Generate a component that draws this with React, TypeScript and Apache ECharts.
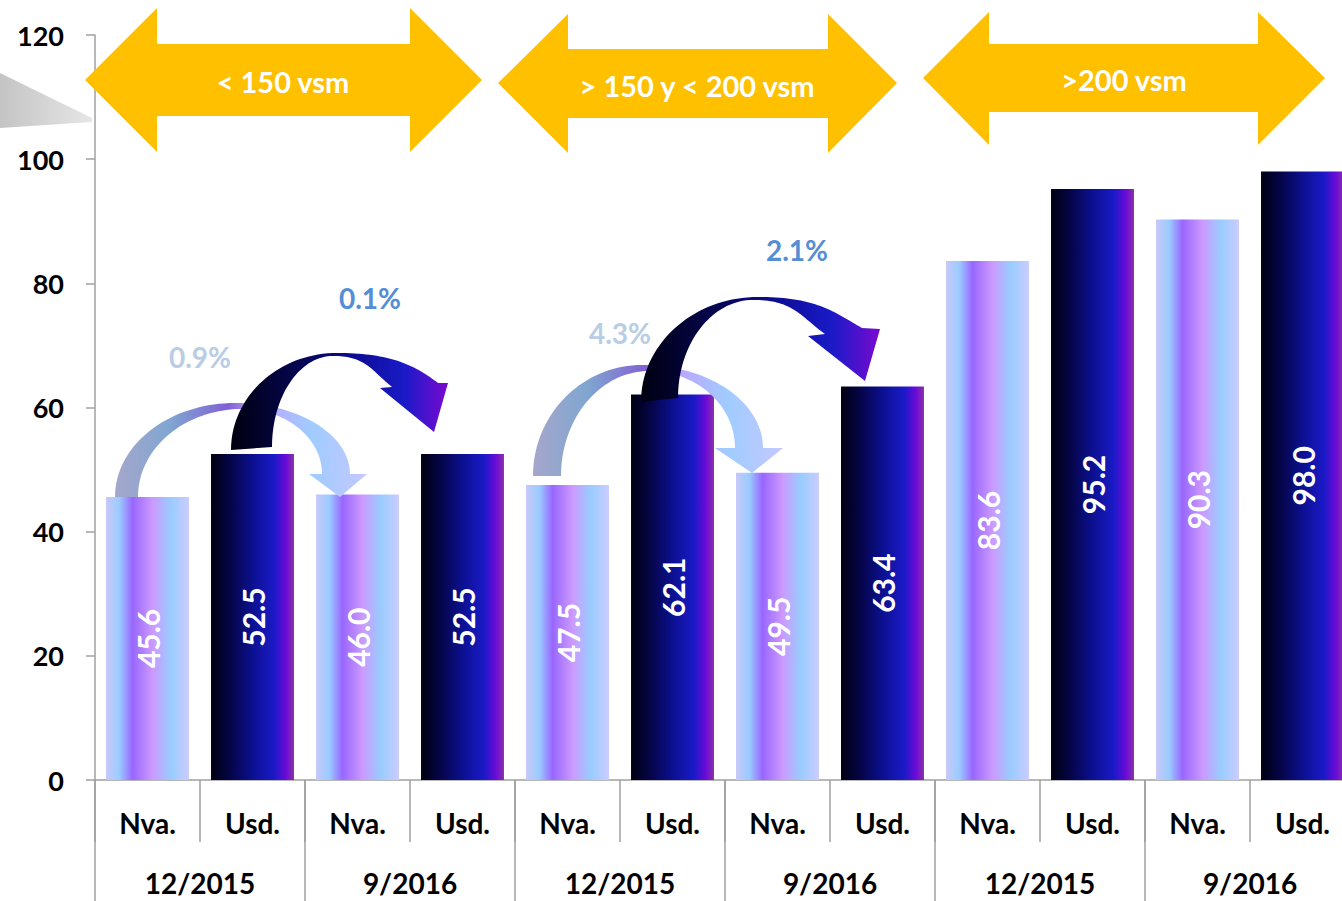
import React, { useEffect, useRef } from "react";
import * as echarts from "echarts";

const subLabels = ["Nva.", "Usd.", "Nva.", "Usd.", "Nva.", "Usd.", "Nva.", "Usd.", "Nva.", "Usd.", "Nva.", "Usd."];
const groupLabels = ["12/2015", "9/2016", "12/2015", "9/2016", "12/2015", "9/2016"];
const values = [45.6, 52.5, 46.0, 52.5, 47.5, 62.1, 49.5, 63.4, 83.6, 95.2, 90.3, 98.0];
const bandLabels = ["< 150 vsm", "> 150 y < 200 vsm", ">200 vsm"];
const changeLabels = ["0.9%", "0.1%", "4.3%", "2.1%"];
const yTicks = [0, 20, 40, 60, 80, 100, 120];

const FONT = "Lato, 'Open Sans', sans-serif";

const nvaGrad = () =>
  new echarts.graphic.LinearGradient(0, 0, 1, 0, [
    { offset: 0, color: "#c8c8f8" },
    { offset: 0.16, color: "#99ccff" },
    { offset: 0.32, color: "#9966ff" },
    { offset: 0.56, color: "#cc99ff" },
    { offset: 0.78, color: "#99ccff" },
    { offset: 1, color: "#ccccff" },
  ]);
const usdGrad = () =>
  new echarts.graphic.LinearGradient(0, 0, 1, 0, [
    { offset: 0, color: "#000010" },
    { offset: 0.25, color: "#05054c" },
    { offset: 0.5, color: "#0c1090" },
    { offset: 0.76, color: "#1a1ac8" },
    { offset: 0.9, color: "#6a0ad8" },
    { offset: 1, color: "#8a30a8" },
  ]);
const lightArrowGrad = () =>
  new echarts.graphic.LinearGradient(0, 0, 1, 0, [
    { offset: 0, color: "#a6a6cc" },
    { offset: 0.22, color: "#7fa6d0" },
    { offset: 0.45, color: "#8260d4" },
    { offset: 0.56, color: "#c0a0ff" },
    { offset: 0.78, color: "#a0ccff" },
    { offset: 1, color: "#c4c8ff" },
  ]);
const darkArrowGrad = () =>
  new echarts.graphic.LinearGradient(0, 0, 1, 0, [
    { offset: 0, color: "#000010" },
    { offset: 0.3, color: "#05054e" },
    { offset: 0.55, color: "#0c0c90" },
    { offset: 0.8, color: "#1a1ac8" },
    { offset: 1, color: "#7a0ad0" },
  ]);

type Pt = [number, number];

function bez(p0: Pt, p1: Pt, p2: Pt, p3: Pt, t: number): Pt {
  const u = 1 - t;
  return [
    u * u * u * p0[0] + 3 * u * u * t * p1[0] + 3 * u * t * t * p2[0] + t * t * t * p3[0],
    u * u * u * p0[1] + 3 * u * u * t * p1[1] + 3 * u * t * t * p2[1] + t * t * t * p3[1],
  ];
}

// edge from bottom of left leg (A) up to top (B), then down to end (C) with end tangent angle th (deg below horizontal)
function edge(A: Pt, B: Pt, C: Pt, th: number): Pt[] {
  const k = 0.552;
  const pts: Pt[] = [];
  const N = 36;
  const c1: Pt = [A[0], A[1] - k * (A[1] - B[1])];
  const c2: Pt = [B[0] - k * (B[0] - A[0]), B[1]];
  for (let i = 0; i <= N; i++) pts.push(bez(A, c1, c2, B, i / N));
  const r = (th * Math.PI) / 180;
  const drop = Math.max(4, C[1] - B[1]);
  const L = Math.min((k * drop) / Math.sin(r), 0.6 * Math.hypot(C[0] - B[0], C[1] - B[1]));
  const d1: Pt = [B[0] + k * (C[0] - B[0]), B[1]];
  const d2: Pt = [C[0] - Math.cos(r) * L, C[1] - Math.sin(r) * L];
  for (let i = 1; i <= N; i++) pts.push(bez(B, d1, d2, C, i / N));
  return pts;
}

export default function App() {
  const ref = useRef<HTMLDivElement>(null);
  useEffect(() => {
    if (!ref.current) return;
    const chart = echarts.init(ref.current, undefined, { renderer: "svg" });
    const axisColor = "#a0a0a0";
    chart.setOption({
      animation: false,
      backgroundColor: "#ffffff",
      grid: { left: 95, right: 1, top: 35, bottom: 121, containLabel: false },
      xAxis: [
        {
          type: "category",
          data: subLabels,
          position: "bottom",
          axisLine: { show: true, lineStyle: { color: axisColor, width: 1.5 } },
          axisTick: { show: true, interval: 0, length: 62, lineStyle: { color: axisColor, width: 1.5 } },
          axisLabel: { interval: 0, margin: 29, color: "#000", fontSize: 28, fontWeight: "bold", fontFamily: FONT },
        },
        {
          type: "category",
          data: groupLabels,
          position: "bottom",
          axisLine: { show: false },
          axisTick: { show: true, interval: 0, length: 121, lineStyle: { color: axisColor, width: 1.5 } },
          axisLabel: { interval: 0, margin: 89, color: "#000", fontSize: 28, fontWeight: "bold", fontFamily: FONT },
        },
      ],
      yAxis: {
        type: "value",
        min: yTicks[0],
        max: yTicks[yTicks.length - 1],
        interval: 20,
        axisLine: { show: true, lineStyle: { color: axisColor, width: 1.5 } },
        axisTick: { show: true, length: 9, lineStyle: { color: axisColor, width: 1.5 } },
        splitLine: { show: false },
        axisLabel: { margin: 31, color: "#000", fontSize: 27, fontWeight: "bold", fontFamily: FONT },
      },
      series: [
        {
          type: "bar",
          xAxisIndex: 0,
          barWidth: "79%",
          data: values.map((v, i) => ({
            value: v,
            itemStyle: { color: i % 2 === 0 ? nvaGrad() : usdGrad() },
          })),
          label: {
            show: true,
            position: "inside",
            rotate: 90,
            color: "#ffffff",
            fontSize: 30,
            fontWeight: "bold",
            fontFamily: FONT,
            formatter: (p: any) => Number(p.value).toFixed(1),
          },
        },
      ],
    });

    const px = (i: number): Pt => chart.convertToPixel({ xAxisIndex: 0, yAxisIndex: 0 }, [i, values[i]]) as Pt;
    const off = (p: Pt, d: number[]): Pt => [p[0] + d[0], p[1] + d[1]];

    // offsets: O0, I0, Pk, Pi relative to start bar top; O1, Bo, T, Bi, I1 relative to end bar top
    const curved = [
      { s: 0, e: 2, dark: false, thO: 90, thI: 90,
        O0: [-32.5, 0], I0: [-9.5, 0], Pk: [87.5, -93.9], Pi: [94.5, -87.9],
        O1: [-7.5, -20.4], Bo: [9.5, -20.4], T: [-17.5, 2.6], Bi: [-48.5, -20.4], I1: [-35.5, -20.4] },
      { s: 1, e: 3, dark: true, thO: 37, thI: 39,
        O0: [-21.5, -4.1], I0: [19.5, -7.1], Pk: [84.5, -101.1], Pi: [80.5, -98.1],
        O1: [-24.5, -71.1], Bo: [-14.5, -71.1], T: [-28.5, -22.1], Bi: [-82.5, -66.1], I1: [-70.5, -67.1] },
      { s: 4, e: 6, dark: false, thO: 90, thI: 90,
        O0: [-34.5, -9.1], I0: [-6.5, -9.1], Pk: [74.5, -120.1], Pi: [81.5, -114.1],
        O1: [-14.5, -24.7], Bo: [5.5, -24.7], T: [-25.5, 0.3], Bi: [-62.5, -24.7], I1: [-42.5, -24.7] },
      { s: 5, e: 7, dark: true, thO: 30, thI: 36,
        O0: [-31.5, 7.5], I0: [5.5, 3.5], Pk: [85.5, -97.5], Pi: [80.5, -94.5],
        O1: [-20.5, -58.4], Bo: [-2.5, -57.4], T: [-17.5, -5.4], Bi: [-74.5, -50.4], I1: [-57.5, -52.4] },
    ];
    const graphics: any[] = [];
    graphics.push({
      type: "polygon",
      z: 100,
      shape: { points: [[0, 73], [92, 118], [92, 122], [0, 128]] },
      style: {
        fill: new echarts.graphic.LinearGradient(0, 0, 1, 0, [
          { offset: 0, color: "#c4c4c4" },
          { offset: 1, color: "#e6e6e6" },
        ]),
      },
    });
    curved.forEach((c) => {
      const s = px(c.s);
      const e = px(c.e);
      const outer = edge(off(s, c.O0), off(s, c.Pk), off(e, c.O1), c.thO);
      const inner = edge(off(s, c.I0), off(s, c.Pi), off(e, c.I1), c.thI);
      const pts: Pt[] = [...outer, off(e, c.Bo), off(e, c.T), off(e, c.Bi), ...inner.reverse()];
      graphics.push({
        type: "polygon",
        z: 100,
        shape: { points: pts },
        style: { fill: c.dark ? darkArrowGrad() : lightArrowGrad() },
      });
    });
    const changePos: Pt[] = [[200, 357], [370, 298], [620, 333], [797, 250]];
    const changeColors = ["#b9cde5", "#558ed5", "#b9cde5", "#558ed5"];
    changeLabels.forEach((t, i) => {
      graphics.push({
        type: "text",
        z: 101,
        x: changePos[i][0],
        y: changePos[i][1],
        style: {
          text: t,
          fill: changeColors[i],
          fontSize: 28,
          fontWeight: "bold",
          fontFamily: FONT,
          align: "center",
          verticalAlign: "middle",
        },
      });
    });
    const bandArrow = (tipL: number, baseL: number, baseR: number, tipR: number, yMid: number, headTop: number, headBot: number, shaftTop: number, shaftBot: number): Pt[] => [
      [tipL, yMid], [baseL, headTop], [baseL, shaftTop], [baseR, shaftTop], [baseR, headTop],
      [tipR, yMid], [baseR, headBot], [baseR, shaftBot], [baseL, shaftBot], [baseL, headBot],
    ];
    const bands = [
      { g: bandArrow(85, 157, 410, 482, 80, 8, 152, 44, 116), tx: 283, ty: 81 },
      { g: bandArrow(498, 568, 828, 897, 83, 14, 153, 49, 118), tx: 697, ty: 85 },
      { g: bandArrow(923, 989, 1258, 1325, 78, 12, 145, 44, 112), tx: 1124, ty: 79 },
    ];
    bands.forEach((b, i) => {
      graphics.push({ type: "polygon", z: 100, shape: { points: b.g }, style: { fill: "#ffc000" } });
      graphics.push({
        type: "text",
        z: 101,
        x: b.tx,
        y: b.ty,
        style: {
          text: bandLabels[i],
          fill: "#ffffff",
          fontSize: 29,
          fontWeight: "bold",
          fontFamily: FONT,
          align: "center",
          verticalAlign: "middle",
        },
      });
    });
    chart.setOption({ graphic: graphics });
    return () => chart.dispose();
  }, []);
  return (
    <div style={{ position: "fixed", left: 0, top: 0, width: 1342, height: 901, overflow: "hidden", background: "#fff" }}>
      <div ref={ref} style={{ width: 1356, height: 901 }} />
    </div>
  );
}
